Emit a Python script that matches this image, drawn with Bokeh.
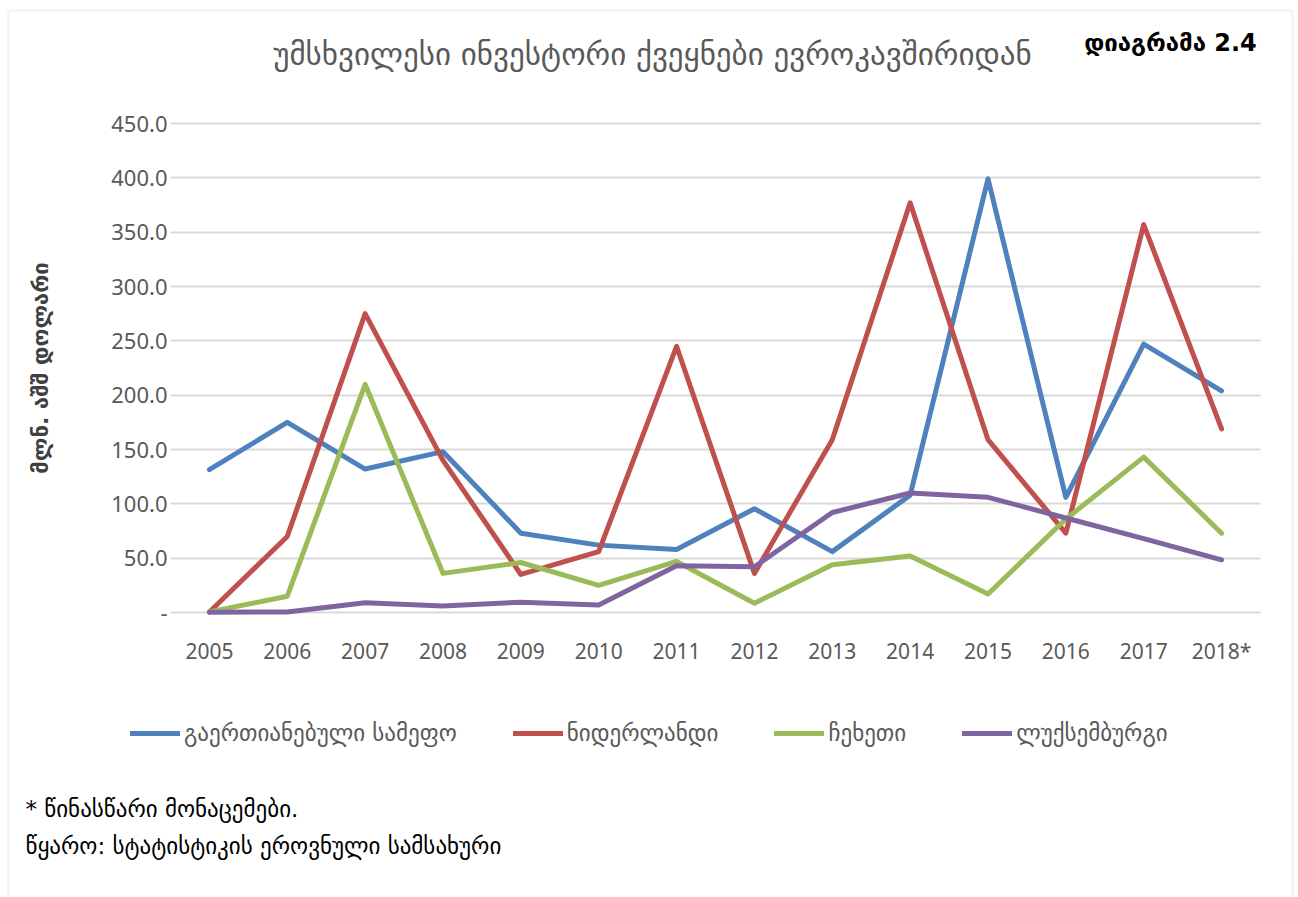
from bokeh.plotting import figure
from bokeh.models import (Legend, LegendItem, Label, BoxAnnotation, NumeralTickFormatter, Range1d,
                          LinearAxis, FixedTicker, ColumnDataSource, Grid)
from bokeh.embed import file_html
from bokeh.resources import INLINE

years = ["2005", "2006", "2007", "2008", "2009", "2010", "2011", "2012", "2013", "2014", "2015", "2016", "2017", "2018*"]
uk = [131.5, 175.0, 132.0, 148.0, 73.0, 62.0, 58.0, 95.5, 56.0, 108.0, 399.0, 106.0, 247.0, 204.0]
netherlands = [0.5, 70.0, 275.0, 140.0, 35.0, 56.0, 245.0, 36.0, 159.0, 377.0, 159.0, 73.0, 357.0, 169.0]
czechia = [0.5, 15.0, 210.0, 36.0, 46.0, 25.0, 47.0, 8.5, 44.0, 52.0, 17.0, 86.0, 143.0, 73.0]
luxembourg = [0.3, 0.5, 9.0, 6.0, 9.5, 7.0, 43.0, 42.0, 92.0, 110.0, 106.0, 87.0, 68.0, 48.5]
series_names = ["გაერთიანებული სამეფო", "ნიდერლანდი", "ჩეხეთი", "ლუქსემბურგი"]
colors = ["#4F81BD", "#C0504D", "#9BBB59", "#8064A2"]
y_ticks = [0, 50, 100, 150, 200, 250, 300, 350, 400, 450]
title_text = "უმსხვილესი ინვესტორი ქვეყნები ევროკავშირიდან"
diagram_text = "დიაგრამა 2.4"
y_label = "მლნ. აშშ დოლარი"
note1 = "* წინასწარი მონაცემები."
note2 = "წყარო: სტატისტიკის ეროვნული სამსახური"

GEO = "DejaVu Sans"
NUM = "Noto Sans"
GRAY = "#595959"

W, H = 1298, 897
# plot area in page pixels
PL, PR, PT, PB = 170, 1260, 123, 612
n = len(years)
ymax = y_ticks[-1]
ky = (PB - PT) / ymax            # px per unit
kx = (PR - PL) / n               # px per category band
x_start = -0.5 - PL / kx
x_end = n - 0.5 + (W - PR) / kx
y_start = -(H - PB) / ky
y_end = ymax + PT / ky

xs = list(range(n))

p = figure(width=W, height=H, x_range=Range1d(x_start, x_end), y_range=Range1d(y_start, y_end),
           output_backend="svg", toolbar_location=None, x_axis_type=None, y_axis_type=None,
           min_border_left=0, min_border_right=0, min_border_top=0, min_border_bottom=0)
p.outline_line_color = None
p.background_fill_color = "white"
p.border_fill_color = "white"

# horizontal grid restricted to plot area
ygrid = Grid(dimension=1, ticker=FixedTicker(ticks=y_ticks), grid_line_color="#d9d9d9", grid_line_width=2)
if "cross_bounds" in Grid.properties():
    ygrid.cross_bounds = (-0.5, n - 0.5)
p.add_layout(ygrid)

# axes positioned at the plot-area edges
xaxis = LinearAxis(fixed_location=0, ticker=FixedTicker(ticks=xs),
                   major_label_overrides={i: y for i, y in enumerate(years)})
yaxis = LinearAxis(fixed_location=-0.5, ticker=FixedTicker(ticks=y_ticks), bounds=(0, ymax),
                   formatter=NumeralTickFormatter(format="0.0"), major_label_overrides={0: "-"},
                   axis_label=y_label)
for ax in (xaxis, yaxis):
    ax.axis_line_color = None
    ax.major_tick_line_color = None
    ax.minor_tick_line_color = None
    ax.major_tick_out = 0
    ax.major_tick_in = 0
    ax.major_label_text_font = NUM
    ax.major_label_text_font_size = "21px"
    ax.major_label_text_color = GRAY
yaxis.major_label_text_font_size = "22px"
yaxis.major_label_standoff = 3
xaxis.major_label_standoff = 24
yaxis.axis_label_text_font = GEO
yaxis.axis_label_text_font_size = "22px"
yaxis.axis_label_text_font_style = "bold"
yaxis.axis_label_text_color = "#404040"
yaxis.axis_label_standoff = 55
p.add_layout(xaxis, "below")
p.add_layout(yaxis, "left")

renderers = []
for vals, c in zip([uk, netherlands, czechia, luxembourg], colors):
    src = ColumnDataSource(dict(x=xs, y=vals))
    r = p.line("x", "y", source=src, line_color=c, line_width=5, line_join="round", line_cap="round")
    renderers.append(r)

legend = Legend(items=[LegendItem(label=nm, renderers=[r]) for nm, r in zip(series_names, renderers)],
                orientation="horizontal", location=(130, H - 746), padding=0, margin=0,
                spacing=56, glyph_width=50, glyph_height=26, label_standoff=4, label_height=26,
                label_text_font=GEO, label_text_font_size="23px", label_text_color=GRAY,
                border_line_color=None, background_fill_alpha=0)
p.add_layout(legend, "center")

p.add_layout(Label(x=652, y=H - 53, x_units="screen", y_units="screen", text=title_text,
                   text_align="center", text_baseline="middle", text_font=GEO,
                   text_font_size="31px", text_color=GRAY))
p.add_layout(Label(x=1170, y=H - 42, x_units="screen", y_units="screen", text=diagram_text,
                   text_align="center", text_baseline="middle", text_font=GEO,
                   text_font_size="24px", text_font_style="bold", text_color="black"))
p.add_layout(Label(x=25, y=H - 808, x_units="screen", y_units="screen", text=note1,
                   text_align="left", text_baseline="middle", text_font=GEO,
                   text_font_size="23px", text_color="black"))
p.add_layout(Label(x=25, y=H - 845, x_units="screen", y_units="screen", text=note2,
                   text_align="left", text_baseline="middle", text_font=GEO,
                   text_font_size="23px", text_color="black"))
p.add_layout(BoxAnnotation(left=8, right=1292, top=H - 10, bottom=-20,
                           left_units="screen", right_units="screen", top_units="screen", bottom_units="screen",
                           fill_alpha=0, line_color="#d9d9d9", line_width=2.5, level="underlay"))

open("out.html", "w").write(file_html(p, INLINE))
